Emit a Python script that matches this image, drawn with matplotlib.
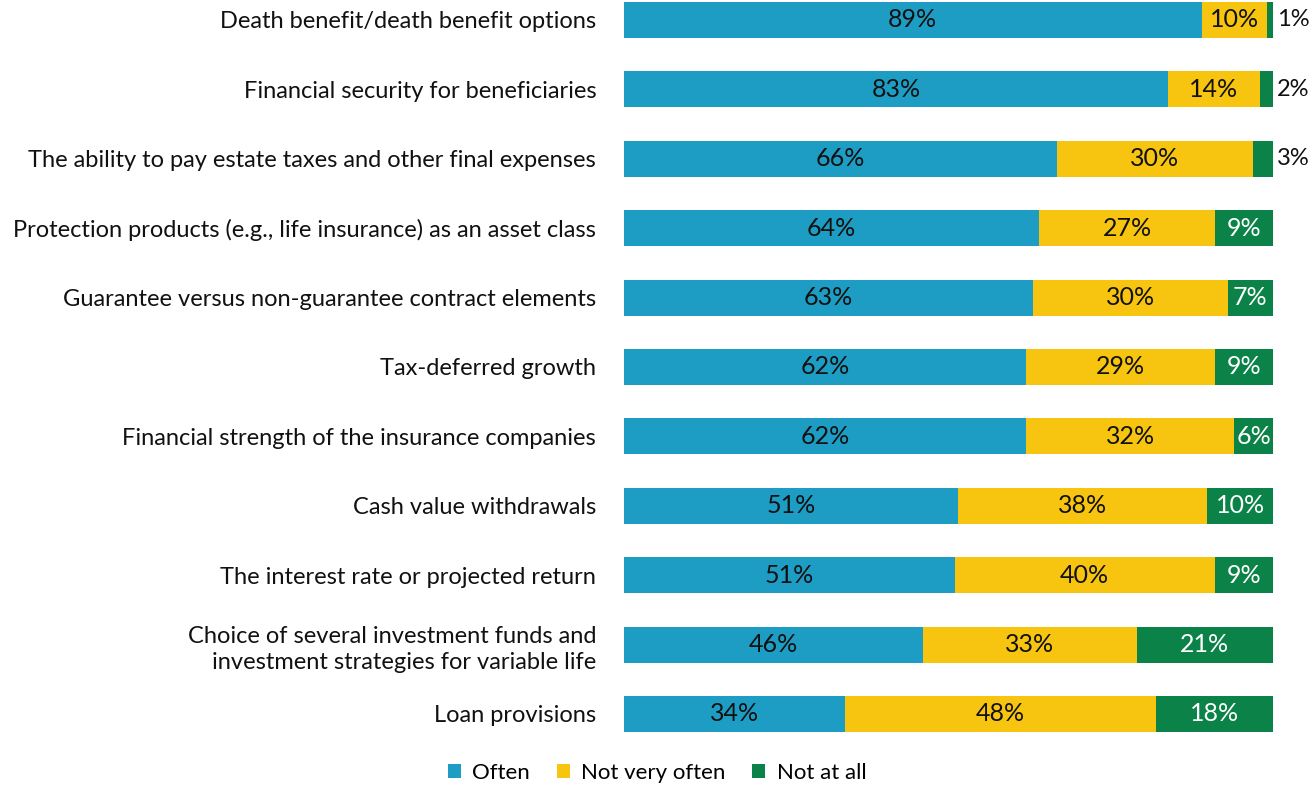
import matplotlib
matplotlib.use("Agg")
import matplotlib.pyplot as plt
import numpy as np

categories = [
    "Death benefit/death benefit options",
    "Financial security for beneficiaries",
    "The ability to pay estate taxes and other final expenses",
    "Protection products (e.g., life insurance) as an asset class",
    "Guarantee versus non-guarantee contract elements",
    "Tax-deferred growth",
    "Financial strength of the insurance companies",
    "Cash value withdrawals",
    "The interest rate or projected return",
    "Choice of several investment funds and\ninvestment strategies for variable life",
    "Loan provisions",
]
often = [89, 83, 66, 64, 63, 62, 62, 51, 51, 46, 34]
not_very_often = [10, 14, 30, 27, 30, 29, 32, 38, 40, 33, 48]
not_at_all = [1, 2, 3, 9, 7, 9, 6, 10, 9, 21, 18]

series = [("Often", often, "#1e9dc4", "#111111"),
          ("Not very often", not_very_often, "#f7c50f", "#111111"),
          ("Not at all", not_at_all, "#0b8247", "white")]

plt.rcParams['font.family'] = ['Lato', 'DejaVu Sans']

fig = plt.figure(figsize=(13.11, 7.88), dpi=100)
ax = fig.add_axes([624 / 1311, 48 / 788, (1273 - 624) / 1311, 740 / 788])

# bars are stretched to full width (rows that round to 99%)
totals = np.array(often) + np.array(not_very_often) + np.array(not_at_all)
y = np.arange(len(categories))
left = np.zeros(len(categories))
for name, vals, color, tcolor in series:
    vals = np.array(vals, dtype=float)
    widths = vals / totals * 100
    ax.barh(y, widths, left=left, height=0.52, color=color, label=name)
    for i, v in enumerate(vals):
        if v >= 5:
            ax.text(left[i] + widths[i] / 2, y[i], f"{int(v)}%", ha='center', va='center',
                    fontsize=18, color=tcolor)
        else:
            ax.text(left[i] + widths[i] + 0.6, y[i], f"{int(v)}%", ha='left', va='center',
                    fontsize=17, color="#111111", clip_on=False)
    left += widths

ax.set_xlim(0, 100)
ax.set_ylim(10.375, -0.288)
ax.set_yticks(y)
ax.set_yticklabels(categories, fontsize=17, color="#111111", ha='right',
                   multialignment='right', linespacing=1.3)
ax.tick_params(axis='y', length=0, pad=20)
ax.set_xticks([])
for s in ax.spines.values():
    s.set_visible(False)

leg = fig.legend(loc='center', bbox_to_anchor=(657 / 1311, 1 - 773 / 788), ncol=3,
                 frameon=False, fontsize=16, handlelength=0.6, handleheight=0.6,
                 handletextpad=0.5, columnspacing=1.2)

fig.savefig("out.png", dpi=100)
